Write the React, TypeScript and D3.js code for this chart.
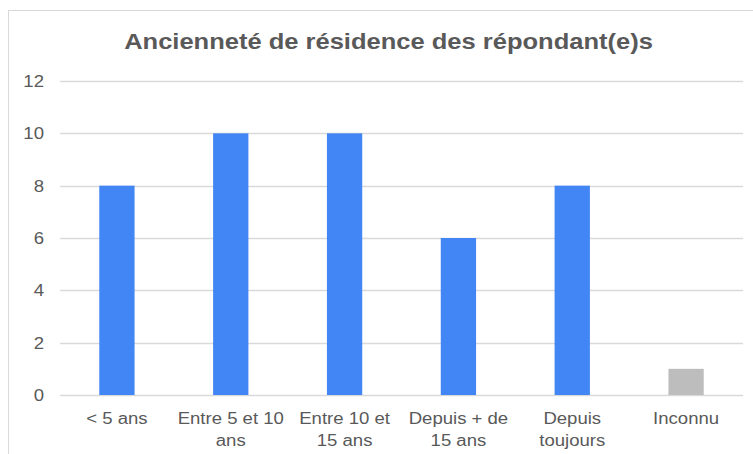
import React from "react";
import * as d3 from "d3";

const categories: string[][] = [
  ["< 5 ans"],
  ["Entre 5 et 10", "ans"],
  ["Entre 10 et", "15 ans"],
  ["Depuis + de", "15 ans"],
  ["Depuis", "toujours"],
  ["Inconnu"],
];
const values: number[] = [8, 10, 10, 6, 8, 1];
const barColors: string[] = ["#4285F4", "#4285F4", "#4285F4", "#4285F4", "#4285F4", "#BDBDBD"];
const yTicks: number[] = [0, 2, 4, 6, 8, 10, 12];
const title = "Ancienneté de résidence des répondant(e)s";

const W = 753;
const H = 454;
const left = 60;
const right = 743;
const top = 81;
const bottom = 395;
const SX = 1.16;

export default function App() {
  const keys = categories.map((_, i) => String(i));
  const x = d3.scaleBand<string>().domain(keys).range([left, right]).paddingInner(0.69).paddingOuter(0.345);
  const y = d3.scaleLinear().domain([0, 12]).range([bottom, top]);
  const font = "'Liberation Sans', Arial, sans-serif";
  return (
    <svg width={W} height={H} style={{ position: "absolute", left: 0, top: 0, background: "#fff" }} fontFamily={font}>
      <rect x={8.5} y={10.5} width={W} height={H} fill="#fff" stroke="#d9d9d9" strokeWidth={1} />
      <text transform={`translate(388.5,48.5) scale(${SX},1)`} textAnchor="middle" fontSize={22} fontWeight="bold" fill="#595959">{title}</text>
      {yTicks.map((t) => (
        <g key={t}>
          <line x1={left} x2={right} y1={Math.round(y(t)) + 0.5} y2={Math.round(y(t)) + 0.5} stroke="#d9d9d9" strokeWidth={1.5} />
          <text transform={`translate(44,${y(t) + 6}) scale(${SX},1)`} textAnchor="end" fontSize={16} fill="#595959">{t}</text>
        </g>
      ))}
      {values.map((v, i) => (
        <rect key={i} x={x(String(i))!} y={y(v)} width={x.bandwidth()} height={y(0) - y(v)} fill={barColors[i]} />
      ))}
      {categories.map((lines, i) => (
        <text key={i} transform={`translate(${x(String(i))! + x.bandwidth() / 2},0) scale(${SX},1)`} textAnchor="middle" fontSize={16} fill="#595959">
          {lines.map((l, j) => (
            <tspan key={j} x={0} y={424 + j * 22}>{l}</tspan>
          ))}
        </text>
      ))}
    </svg>
  );
}
